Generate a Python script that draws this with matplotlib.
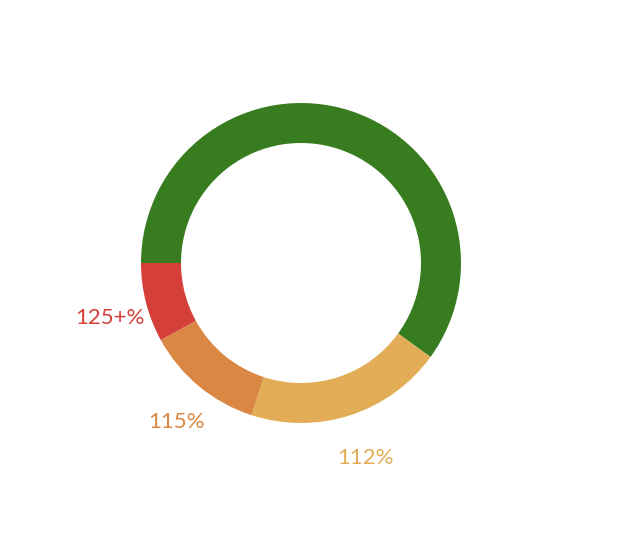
import numpy as np
import matplotlib.pyplot as plt

plt.rcParams['font.family'] = ['Lato', 'DejaVu Sans']

labels = ['', '112%', '115%', '125+%']
values = [60, 20, 12, 8]
colors = ['#377d1f', '#e2ad56', '#d98743', '#d43f3a']

fig = plt.figure(figsize=(6.38, 5.52), dpi=100)
ax = fig.add_axes([0, 0, 1, 1])

wedges, texts = ax.pie(values, labels=labels, colors=colors, radius=160,
                       center=(301, 289), startangle=180, counterclock=False,
                       labeldistance=1.25, wedgeprops=dict(width=40, linewidth=0),
                       frame=True)
ax.set_xlim(0, 638)
ax.set_ylim(0, 552)
ax.set_aspect('equal')
ax.axis('off')
for t, c in zip(texts, colors):
    x, y = t.get_position()
    t.set_position((x + 3, y - 5))
    t.set_color(c)
    t.set_fontsize(16)
    t.set_ha('center')
    t.set_va('center')

plt.savefig('out.png', dpi=100)
